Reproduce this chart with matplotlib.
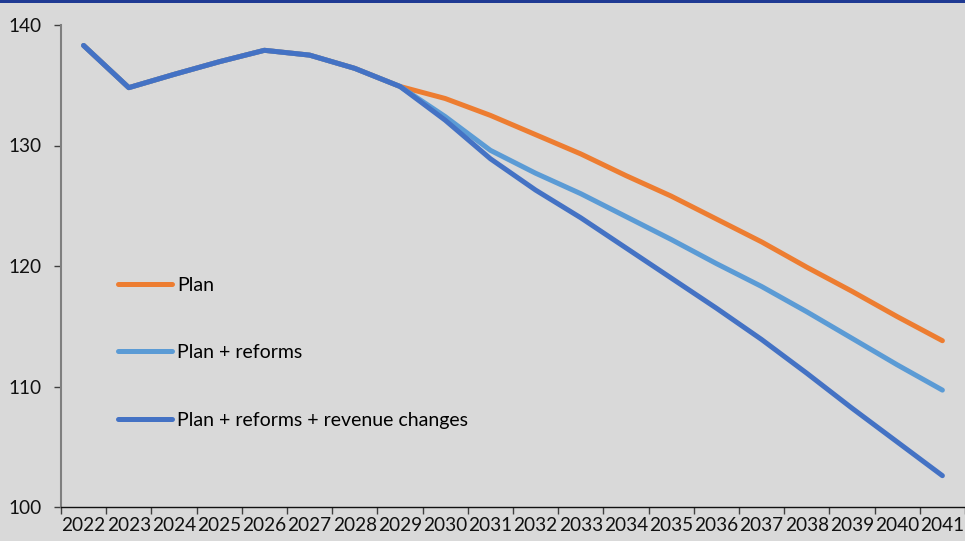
import matplotlib
matplotlib.use("Agg")
import matplotlib.pyplot as plt
from matplotlib.lines import Line2D

years = [str(y) for y in range(2022, 2042)]

plan = [138.3, 134.8, 135.9, 136.95, 137.9, 137.5, 136.4, 134.9,
        133.9, 132.5, 130.9, 129.3, 127.5, 125.8, 123.9, 122.0,
        119.9, 117.9, 115.8, 113.8]
plan_reforms = [138.3, 134.8, 135.9, 136.95, 137.9, 137.5, 136.4, 134.9,
                132.4, 129.6, 127.7, 126.0, 124.1, 122.2, 120.2, 118.3,
                116.2, 114.0, 111.8, 109.7]
plan_reforms_revenue = [138.3, 134.8, 135.9, 136.95, 137.9, 137.5, 136.4, 134.9,
                        132.1, 128.9, 126.3, 124.0, 121.5, 119.0, 116.5, 113.9,
                        111.1, 108.2, 105.4, 102.6]

series_names = ["Plan", "Plan + reforms", "Plan + reforms + revenue changes"]
series_colors = ["#ED7D31", "#5B9BD5", "#4472C4"]

y_ticks = [100, 110, 120, 130, 140]

plt.rcParams['font.family'] = ['Lato', 'DejaVu Sans']

bg = "#d9d9d9"
fig = plt.figure(figsize=(9.65, 5.41), dpi=100, facecolor=bg)
ax = fig.add_axes([61 / 965, 1 - 507 / 541, 1 - 61 / 965, (507 - 25) / 541])
ax.set_facecolor(bg)

# thin dark band across the top edge
fig.add_artist(plt.Rectangle((0, 1 - 3 / 541), 1, 3 / 541, transform=fig.transFigure,
                             facecolor="#1f3a93", edgecolor="none"))

x = list(range(len(years)))
for vals, name, col in zip([plan, plan_reforms, plan_reforms_revenue], series_names, series_colors):
    ax.plot(x, vals, color=col, lw=3.6, solid_capstyle="round", solid_joinstyle="round",
            label=name, clip_on=False)

ax.set_xlim(-0.5, len(years) - 0.5)
ax.set_ylim(100, 140)
ax.set_yticks(y_ticks)
ax.set_yticklabels([str(v) for v in y_ticks])

# category boundaries carry the tick marks, labels sit at the centers
ax.set_xticks([i - 0.5 for i in range(len(years) + 1)])
ax.set_xticklabels([])
ax.set_xticks(x, minor=True)
ax.set_xticklabels(years, minor=True)
ax.tick_params(axis="x", which="major", length=5, width=1, color="#404040", direction="out")
ax.tick_params(axis="x", which="minor", length=0, pad=7, labelsize=13.7, labelcolor="#111111")
ax.tick_params(axis="y", length=5, width=1, color="#404040", direction="out", pad=9,
               labelsize=13.7, labelcolor="#111111")

for s in ["top", "right"]:
    ax.spines[s].set_visible(False)
ax.spines["left"].set_color("#7f7f7f")
ax.spines["left"].set_linewidth(1.5)
ax.spines["bottom"].set_color("#111111")
ax.spines["bottom"].set_linewidth(1)

handles = [Line2D([], [], color=c, lw=3.6, solid_capstyle="round") for c in series_colors]
leg = ax.legend(handles, series_names, loc="upper left", bbox_to_anchor=(0.0545, 0.494),
                frameon=False, fontsize=14, handlelength=2.75, handletextpad=0.3,
                labelspacing=2.6, borderaxespad=0)

fig.savefig("out.png", dpi=100, facecolor=bg)
